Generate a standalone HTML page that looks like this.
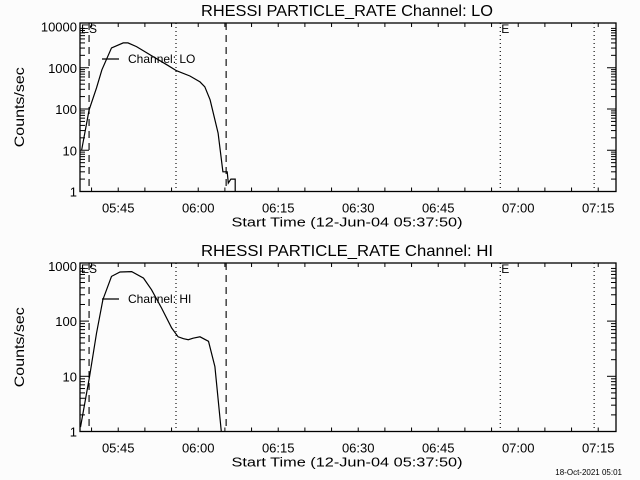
<!DOCTYPE html>
<html><head><meta charset="utf-8">
<style>
html,body{margin:0;padding:0;background:#fcfcfc;}
svg{display:block;font-family:"Liberation Sans","DejaVu Sans",sans-serif;}
</style></head>
<body>
<svg id="chart" width="640" height="480" viewBox="0 0 640 480" xmlns="http://www.w3.org/2000/svg">
<rect x="0" y="0" width="640" height="480" fill="#fcfcfc"/>
<text x="622" y="475" font-size="8" text-anchor="end" fill="#000">18-Oct-2021 05:01</text>
</svg>
<script>
// Data (time in minutes after 05:37:50)
const loTimes = [0.3,1.7,3.1,4.1,5.9,8.1,9.0,10.6,13.7,16.3,18.1,20.6,22.5,23.4,24.4,25.9,26.8,27.6,27.8,28.3,29.1,29.1];
const loValues = [10,95,325,890,3020,4000,4000,3250,1860,1180,850,630,455,345,167,26,3,3,1.6,2,2,1];
const hiTimes = [0.1,1.8,3.1,4.3,5.9,7.5,9.7,11.9,13.4,15.3,17.2,18.4,19.4,20.3,21.2,22.5,24.1,25.3,26.5];
const hiValues = [1.2,10,60,245,645,775,790,600,370,172,75,52,48,46,49,52,43,15,1];
const tickLabels = ["05:45","06:00","06:15","06:30","06:45","07:00","07:15"];
const tickMinutes = [7.1667,22.1667,37.1667,52.1667,67.1667,82.1667,97.1667];
const markerMinutes = [1.7,18.0,27.4,78.8,96.4];
const markerStyles = ["dash","dot","dash","dot","dot"];

const svg = document.getElementById('chart');
const NS = 'http://www.w3.org/2000/svg';
function mk(tag, attrs, parent){
  const e = document.createElementNS(NS, tag);
  for (const k in attrs) e.setAttribute(k, attrs[k]);
  (parent||svg).appendChild(e);
  return e;
}
const X0 = 80, X1 = 616, PXMIN = 80/15;
const xs = m => X0 + m * PXMIN;
const tMax = (X1 - X0) / PXMIN;

function panel(cfg){
  const g = mk('g', {});
  
  
  const ys = v => cfg.yBottom - Math.log10(v) * cfg.dec;
  const t = mk('text', {x: 347, y: cfg.top - 7, 'font-size': 16, 'text-anchor': 'middle', textLength: 292, lengthAdjust: 'spacingAndGlyphs'}, g);
  t.textContent = cfg.title;
  
  
  const fr = mk('rect', {x: X0, y: cfg.top, width: X1 - X0, height: cfg.yBottom - cfg.top, fill: 'none', stroke: '#000', 'stroke-width': 1.3}, g);
  
  
  for (let m = 2.1667; m < tMax; m += 5) {
    const x = xs(m);
    const tk1 = mk('line', {x1: x, x2: x, y1: cfg.yBottom, y2: cfg.yBottom - 4, stroke: '#000'}, g);
    
    
    const tk2 = mk('line', {x1: x, x2: x, y1: cfg.top, y2: cfg.top + 4, stroke: '#000'}, g);
    
    
  }
  tickLabels.forEach((lab, i) => {
    const tl = mk('text', {x: xs(tickMinutes[i]), y: cfg.yBottom + 21, 'font-size': 13, 'text-anchor': 'middle'}, g);
    tl.textContent = lab;
    
    
  });
  const xt = mk('text', {x: 347, y: cfg.yBottom + 35, 'font-size': 13, 'text-anchor': 'middle', textLength: 231, lengthAdjust: 'spacingAndGlyphs'}, g);
  xt.textContent = 'Start Time (12-Jun-04 05:37:50)';
  
  
  for (let d = 0; d < cfg.decades; d++) {
    for (let k = 1; k <= 9; k++) {
      const v = Math.pow(10, d) * k;
      const y = ys(v);
      if (y < cfg.top - 0.5) continue;
      const len = k === 1 ? 9 : 5;
      const a = mk('line', {x1: X0, x2: X0 + len, y1: y, y2: y, stroke: '#000'}, g);
      
      
      const b = mk('line', {x1: X1, x2: X1 - len, y1: y, y2: y, stroke: '#000'}, g);
      
      
      if (k === 1) {
        const yl = mk('text', {x: X0 - 3, y: y + 5, 'font-size': 13, 'text-anchor': 'end'}, g);
        yl.textContent = String(Math.pow(10, d));
        
        
      }
    }
  }
  const top10 = ys(Math.pow(10, cfg.decades));
  if (top10 >= cfg.top - 1) {
    const yl = mk('text', {x: X0 - 3, y: top10 + 5, 'font-size': 13, 'text-anchor': 'end'}, g);
    yl.textContent = String(Math.pow(10, cfg.decades));
    
    
  }
  const cy = (cfg.top + cfg.yBottom) / 2;
  const ya = mk('text', {x: 24, y: cy, 'font-size': 14, 'text-anchor': 'middle', textLength: 80, lengthAdjust: 'spacingAndGlyphs', transform: `rotate(-90 24 ${cy})`}, g);
  ya.textContent = 'Counts/sec';
  
  
  markerMinutes.forEach((m, i) => {
    const x = xs(m);
    const ml = mk('line', {x1: x, x2: x, y1: cfg.top, y2: cfg.yBottom, stroke: '#000', 'stroke-width': 1.1,
      'stroke-dasharray': markerStyles[i] === 'dash' ? '7,5' : '1,3'}, g);
    
    
  });
  const es = mk('text', {x: X0 + 1, y: cfg.top + 10, 'font-size': 12}, g);
  es.textContent = 'ES';
  
  
  const e = mk('text', {x: xs(markerMinutes[3]) + 1, y: cfg.top + 10, 'font-size': 12}, g);
  e.textContent = 'E';
  
  
  const pts = cfg.t.map((m, i) => `${xs(m).toFixed(1)},${Math.min(cfg.yBottom, ys(cfg.v[i])).toFixed(1)}`).join(' ');
  const pl = mk('polyline', {points: pts, fill: 'none', stroke: '#000', 'stroke-width': 1.2}, g);
  
  
  const ll = mk('line', {x1: 102, x2: 119, y1: cfg.legendY, y2: cfg.legendY, stroke: '#000', 'stroke-width': 1.2}, g);
  
  
  const lt = mk('text', {x: 128, y: cfg.legendY + 4, 'font-size': 12}, g);
  lt.textContent = cfg.legend;
  
  
}

panel({name: 'panel-lo', title: 'RHESSI PARTICLE_RATE Channel: LO', top: 23, yBottom: 191.5, dec: 41.25, decades: 4,
  t: loTimes, v: loValues, legend: 'Channel: LO', legendY: 59});
panel({name: 'panel-hi', title: 'RHESSI PARTICLE_RATE Channel: HI', top: 263, yBottom: 431.5, dec: 55.2, decades: 3,
  t: hiTimes, v: hiValues, legend: 'Channel: HI', legendY: 299});
</script>
</body></html>
